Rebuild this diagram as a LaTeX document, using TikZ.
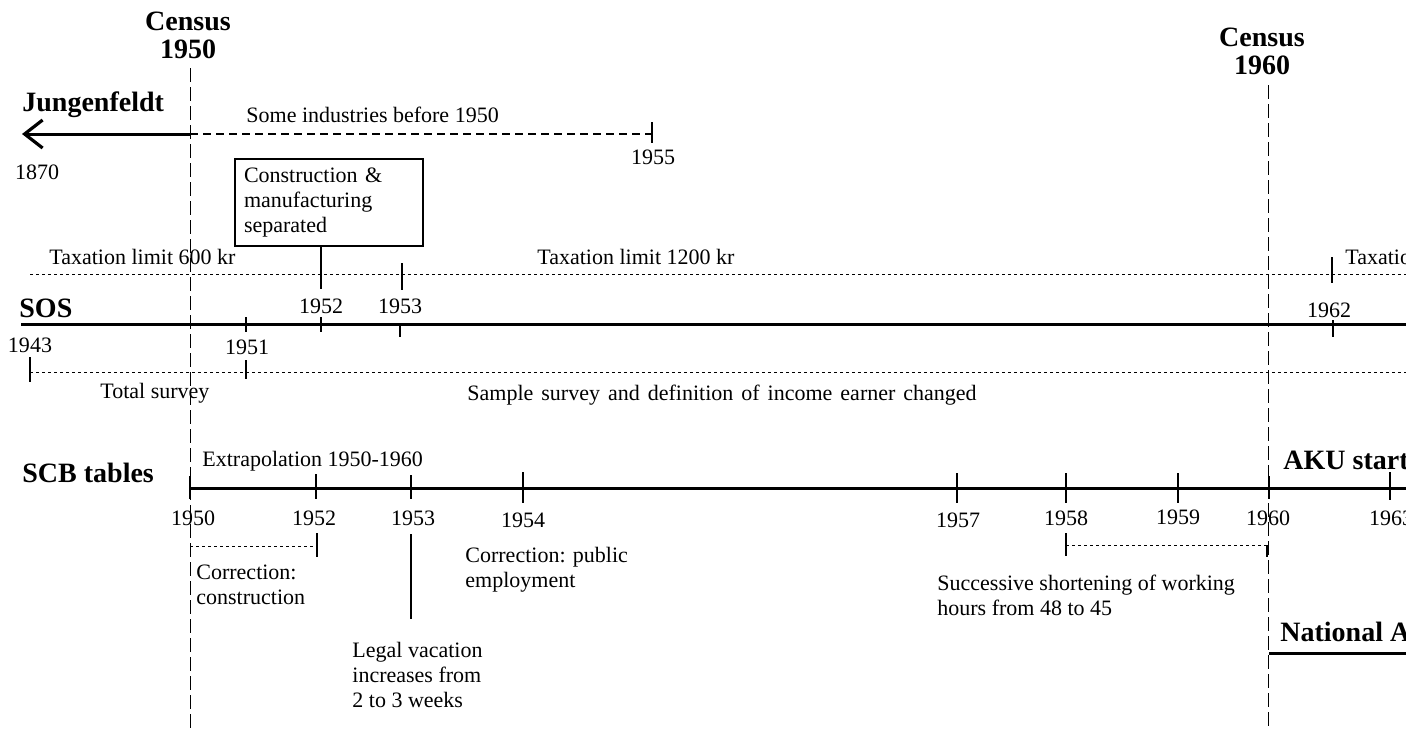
\documentclass[tikz,border=0pt]{standalone}
\usepackage{fontspec}
\setmainfont{Liberation Serif}
\usetikzlibrary{arrows.meta}
\tikzset{every node/.style={inner sep=0pt,font=\fontsize{11}{12.5}\selectfont}}
\tikzset{hd/.style={font=\fontsize{14}{14}\selectfont\bfseries}}
\tikzset{box/.style={draw,line width=1pt,inner sep=4.5pt,text width=85pt,align=left}}
\tikzset{axis/.style={line width=1.5pt}}
\tikzset{tick/.style={line width=0.9pt}}
\tikzset{census/.style={line width=0.5pt,dash pattern=on 7pt off 2.5pt}}
\tikzset{dots/.style={line width=0.45pt,dash pattern=on 1.5pt off 1.5pt}}
\tikzset{longdash/.style={line width=0.6pt,dash pattern=on 4pt off 2.5pt}}

\begin{document}
\begin{tikzpicture}[x=0.5pt,y=-0.5pt]
      \useasboundingbox (0,0) rectangle (1406,730);
      \clip (0,0) rectangle (1406,730);
      \node[hd,align=center] (cen50) at (188,35) {Census\\1950};
      \node[hd,align=center] (cen60) at (1262,51) {Census\\1960};
      \coordinate (c50a) at (190,68);  \coordinate (c50b) at (190,730);
      \coordinate (c60a) at (1268,85); \coordinate (c60b) at (1268,730);
      \draw[census] (c50a) -- (c50b);
      \draw[census] (c60a) -- (c60b);

      \node[hd,anchor=west] (jung) at (22,105) {Jungenfeldt};
      \coordinate (j0) at (190,134); \coordinate (j1) at (22,134);
      \coordinate (j55) at (652,134);
      \draw[axis,-{Straight Barb[length=9pt,width=14pt,line width=1.6pt]}] (j0) -- (j1);
      \draw[longdash] (j0) -- (j55);
      \draw[tick] (652,122) -- (652,143);
      \node[anchor=west] (some) at (246,115) {Some industries before\ 1950};
      \node (y1870) at (37,172) {1870};
      \node (y1955) at (653,157) {1955};

      \node[box,anchor=north west] (constr) at (234,158) {Construction \&\\manufacturing\\separated};

      \coordinate (tax0) at (30,274); \coordinate (tax1) at (1406,274);
      \draw[dots] (tax0) -- (tax1);
      \node[anchor=west] (tax600) at (49,257) {Taxation limit 600 kr};
      \node[anchor=west] (tax1200) at (537,257) {Taxation limit 1200 kr};
      \node[anchor=west] (tax62) at (1345,257) {Taxation};

      \node[hd,anchor=west] (sos) at (19,308) {SOS};
      \coordinate (sos0) at (21,324); \coordinate (sos1) at (1406,324);
      \draw[axis] (sos0) -- (sos1);
      \coordinate (t52) at (321,289);
      \draw[tick] (constr.south -| t52) -- (t52);
      \foreach \x/\a/\b in {246/317/332,321/317/332,400/323/337,402/263/290,1333/320/337,1332/257/283,30/357/382,246/360/379}
        \draw[tick] (\x,\a) -- (\x,\b);
      \foreach \x/\y/\t in {30/345/1943,247/347/1951,321/306/1952,400/306/1953,1329/310/1962}
        \node (o\t) at (\x,\y) {\t};

      \coordinate (tot0) at (30,372); \coordinate (tot1) at (1406,372);
      \draw[dots] (tot0) -- (tot1);
      \node[anchor=west] (total) at (100,393) {Total survey};
      \node[anchor=west] (sample) at (467,395) {\spaceskip=4pt Sample survey and definition of income earner changed};

      \node[hd,anchor=west] (scb) at (22,473) {SCB tables};
      \node[anchor=west] (extra) at (202,461) {Extrapolation 1950-1960};
      \node[hd,anchor=west] (aku) at (1283,460) {AKU start};
      \coordinate (scb0) at (190,488); \coordinate (scb1) at (1406,488);
      \draw[axis] (scb0) -- (scb1);
      \foreach \x/\a/\b in {190/476/499,316/474/499,411/475/499,523/472/503,957/473/503,1066/473/503,1178/473/503,1269/476/499,1390/472/500}
        \draw[tick] (\x,\a) -- (\x,\b);
      \foreach \x/\y/\t in {193/518/1950,314/518/1952,413/518/1953,523/520/1954,958/520/1957,1066/518/1958,1178/517/1959,1268/518/1960,1391/518/1963}
        \node (s\t) at (\x,\y) {\t};

      \coordinate (k0) at (190,546); \coordinate (k1) at (317,546);
      \draw[dots] (k0) -- (k1);
      \draw[tick] (317,533) -- (317,557);
      \node[anchor=west,align=left] (corr) at (196,585) {Correction:\\construction};
      \draw[tick] (411,534) -- (411,619);
      \node[anchor=west,align=left] (legal) at (352,675) {Legal vacation\\increases from\\2 to 3 weeks};
      \node[anchor=west,align=left] (public) at (465,570) {Correction: public\\employment};
      \coordinate (h0) at (1066,545); \coordinate (h1) at (1267,545);
      \draw[dots] (h0) -- (h1);
      \draw[tick] (1066,533) -- (1066,556);
      \draw[tick] (1267,545) -- (1267,557);
      \node[anchor=west,align=left] (hours) at (937,595) {Successive shortening of working\\hours from 48 to 45};

      \node[hd,anchor=west] (nat) at (1280,632) {National Accounts};
      \coordinate (n0) at (1269,653); \coordinate (n1) at (1406,653);
      \draw[axis] (n0) -- (n1);
    \end{tikzpicture}
\end{document}
